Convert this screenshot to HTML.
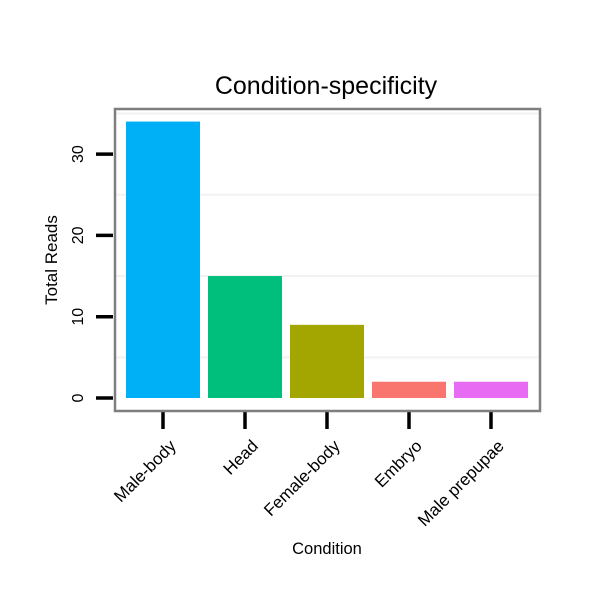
<!DOCTYPE html>
<html><head><meta charset="utf-8"><style>body{margin:0;background:#fff}svg{display:block;font-family:"Liberation Sans",sans-serif}</style></head>
<body>
<svg id="c" width="600" height="600">
<text x="326" y="94" font-size="25" text-anchor="middle">Condition-specificity</text>
<text x="327" y="554" font-size="16.5" text-anchor="middle">Condition</text>
<text transform="translate(57,260) rotate(-90)" font-size="17" text-anchor="middle">Total Reads</text>
<g id="grid"></g><g id="bars"></g><g id="axes"></g>
<rect x="115" y="109" width="425" height="302" fill="none" stroke="#7f7f7f" stroke-width="2.5"/>
</svg>
<script>
const categories=["Male-body","Head","Female-body","Embryo","Male prepupae"];
const values=[34,15,9,2,2];
const colors=["#00b0f6","#00bf7d","#a3a500","#f8766d","#e76bf3"];
const yTicks=[0,10,20,30];
const yMinor=[5,15,25,35];
const NS="http://www.w3.org/2000/svg";
const y=v=>398-v*8.13;
const x=i=>163+i*82;
function mk(t,a,p){const e=document.createElementNS(NS,t);for(const k in a)e.setAttribute(k,a[k]);document.getElementById(p).appendChild(e);return e;}
yMinor.forEach(v=>{const l=mk("line",{x1:116,x2:539,y1:y(v),y2:y(v),stroke:"#f2f2f2","stroke-width":2},"grid");

});
values.forEach((v,i)=>{const r=mk("rect",{x:x(i)-37,y:y(v),width:74,height:y(0)-y(v),fill:colors[i]},"bars");


const t=mk("line",{x1:x(i),x2:x(i),y1:412,y2:429,stroke:"#000","stroke-width":3.5},"axes");


const lb=mk("text",{transform:`translate(${x(i)+14},447) rotate(-45)`,"font-size":17,"text-anchor":"end"},"axes");
lb.textContent=categories[i];

});
yTicks.forEach(v=>{const t=mk("line",{x1:96,x2:113,y1:y(v),y2:y(v),stroke:"#000","stroke-width":3.5},"axes");


const lb=mk("text",{transform:`translate(83,${y(v)}) rotate(-90)`,"font-size":16,"text-anchor":"middle"},"axes");
lb.textContent=v;

});
</script>
</body></html>
